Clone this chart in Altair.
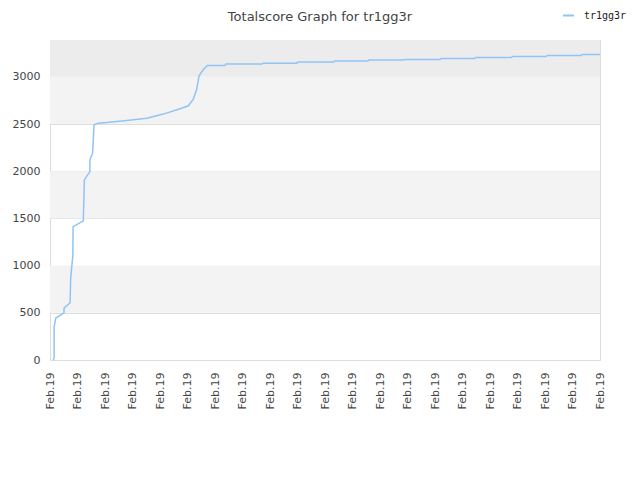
import altair as alt
import pandas as pd

# x positions in tick units (21 "Feb.19" ticks: 0..20), score values
xs = [0.12, 0.15, 0.15, 0.21, 0.51, 0.51, 0.73, 0.75, 0.79, 0.83, 0.84,
      1.21, 1.25, 1.45, 1.45, 1.55, 1.60, 1.76,
      2.06, 2.79, 3.52, 4.12, 4.73, 5.03, 5.21, 5.33, 5.42, 5.57, 5.72,
      6.36, 6.40, 7.71, 7.75, 8.97, 9.01, 10.31, 10.35, 11.56, 11.60,
      12.87, 12.91, 14.18, 14.22, 15.44, 15.48, 16.78, 16.82, 18.04, 18.08,
      19.31, 19.35, 20.0]
scores = [0, 20, 350, 445, 500, 550, 607, 848, 989, 1095, 1413,
          1474, 1908, 1996, 2120, 2191, 2491, 2509,
          2516, 2537, 2562, 2605, 2661, 2693, 2764, 2862, 3011, 3074, 3120,
          3120, 3135, 3135, 3145, 3145, 3156, 3156, 3167, 3167, 3177,
          3177, 3184, 3184, 3194, 3194, 3205, 3205, 3215, 3215, 3226,
          3226, 3237, 3237]
tick_values = list(range(21))
tick_label = "Feb.19"
y_ticks = [0, 500, 1000, 1500, 2000, 2500, 3000]
band_lo = [500, 1500, 2500]
band_hi = [1000, 2000, 3000]
top_lo = [3000]
top_hi = [3390]
series_name = "tr1gg3r"
title_text = "Totalscore Graph for tr1gg3r"
line_color = "#90c4f5"

df = pd.DataFrame({"x": xs, "score": scores, "series": series_name})
bands = pd.DataFrame({"lo": band_lo, "hi": band_hi})
top = pd.DataFrame({"lo": top_lo, "hi": top_hi})
title_df = pd.DataFrame({"t": [title_text]})

yscale = alt.Scale(domain=[0, 3390], nice=False, zero=True)
xscale = alt.Scale(domain=[0, 20], nice=False, zero=False)

yaxis = alt.Axis(values=y_ticks, format="d", ticks=False, domain=False, grid=True,
                 gridColor="#dddddd", gridWidth=1, labelPadding=10,
                 labelFont="DejaVu Sans", labelFontSize=11, labelColor="#444")

band_layer = alt.Chart(bands).mark_rect(strokeWidth=0, fill="#f3f3f3").encode(
    x=alt.value(0), x2=alt.value(550),
    y=alt.Y("lo:Q", scale=yscale, axis=yaxis, title=None), y2="hi:Q",
)
top_layer = alt.Chart(top).mark_rect(strokeWidth=0, fill="#ececec").encode(
    x=alt.value(0), x2=alt.value(550),
    y=alt.Y("lo:Q", scale=yscale, axis=yaxis, title=None), y2="hi:Q",
)

line = alt.Chart(df).mark_line(strokeWidth=1.5, interpolate="linear").encode(
    x=alt.X("x:Q", scale=xscale, title=None,
            axis=alt.Axis(values=tick_values, labelExpr=f"'{tick_label}'",
                          labelAngle=-90, labelAlign="right", labelBaseline="middle",
                          labelPadding=12, ticks=False, domain=False, grid=False,
                          labelFont="DejaVu Sans", labelFontSize=11, labelColor="#444",
                          labelOverlap=False, labelBound=False, labelFlush=False)),
    y=alt.Y("score:Q", scale=yscale, title=None, axis=yaxis),
    color=alt.Color("series:N", scale=alt.Scale(domain=[series_name], range=[line_color]),
                    legend=alt.Legend(title=None, orient="none", legendX=512, legendY=-31,
                                      symbolType="stroke", symbolSize=120, symbolStrokeWidth=2,
                                      labelFont="DejaVu Sans Mono", labelFontSize=10,
                                      labelColor="#222", labelOffset=9)),
    order="x:Q",
)

title_layer = alt.Chart(title_df).mark_text(
    font="DejaVu Sans", fontSize=13, color="#444", align="center", baseline="alphabetic"
).encode(x=alt.value(270), y=alt.value(-19), text="t:N")

chart = alt.layer(band_layer, top_layer, line, title_layer).properties(
    width=550, height=320,
    padding={"left": 42, "top": 32, "right": 32, "bottom": 72},
    autosize=alt.AutoSizeParams(type="none"),
).configure_view(stroke="#d8d8d8", strokeWidth=1).configure(background="white")

chart.save("out.html", embed_options={"renderer": "svg", "actions": False})
